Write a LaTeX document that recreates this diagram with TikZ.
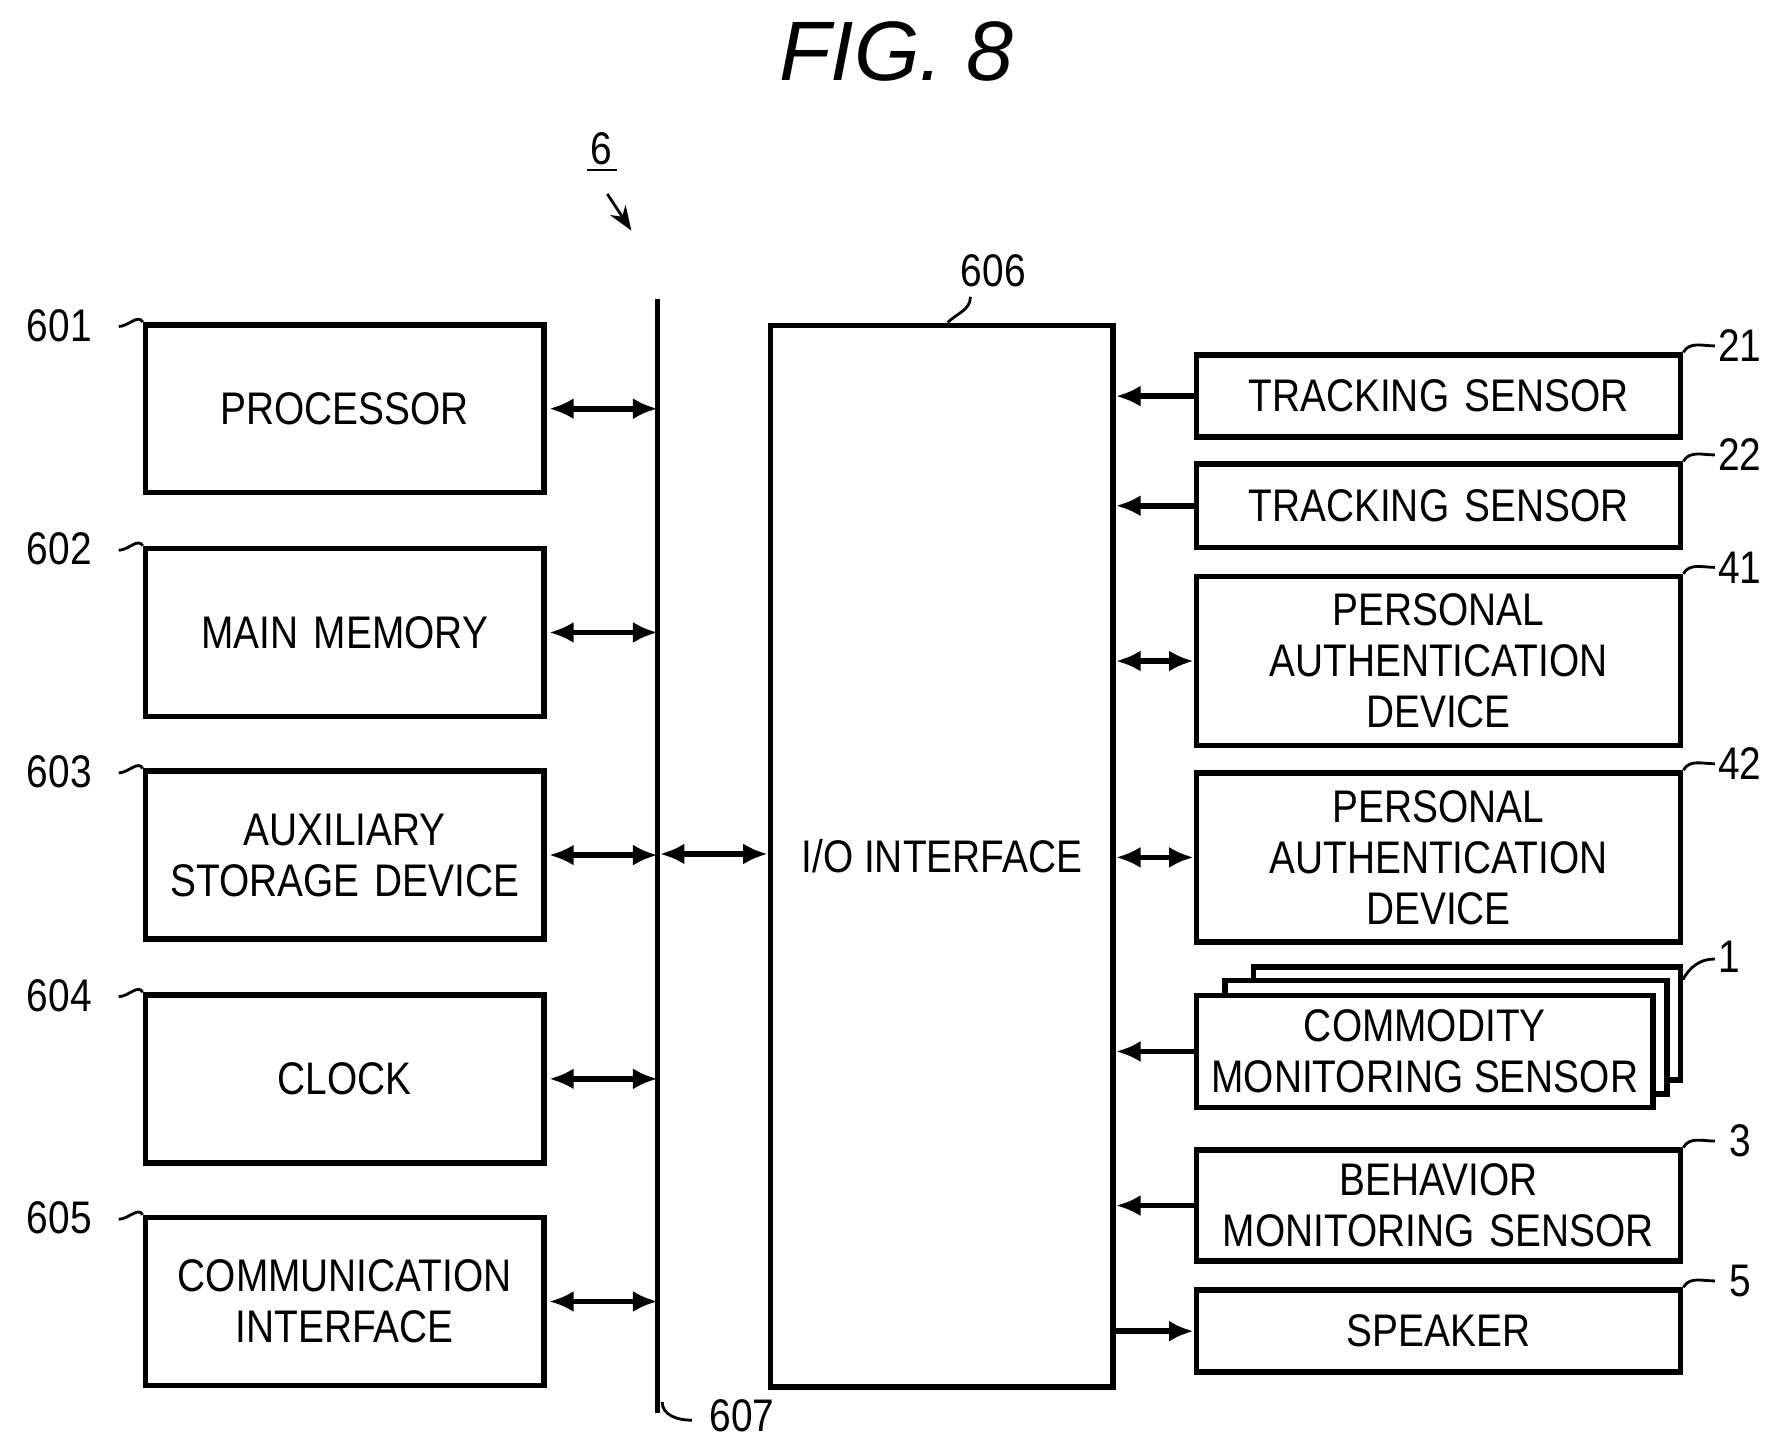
\documentclass[tikz,border=0pt]{standalone}
\usepackage{fontspec}
\setmainfont[FakeStretch=0.85]{Liberation Sans}
\newfontfamily\titlefont{Liberation Sans}
\usetikzlibrary{arrows.meta,decorations.pathmorphing}
\tikzset{
    blk/.style={draw, line width=1.6pt, inner sep=0pt, align=center,
        font=\fontsize{13}{14.5}\selectfont},
    ref/.style={font=\fontsize{13}{14}\selectfont},
    hook/.style={line width=0.8pt},
    link/.style={line width=1.6pt, -{Latex[length=7pt,width=6pt]}},
    dlink/.style={line width=1.6pt, {Latex[length=7pt,width=6pt]}-{Latex[length=7pt,width=6pt]}},
}
\begin{document}
\begin{tikzpicture}[x=0.01142cm, y=-0.01142cm]
\useasboundingbox (0,0) rectangle (1560,1264);
\node (title) at (785,45) {\titlefont\fontsize{24}{26}\selectfont\itshape FIG. 8};
% unit label
\node[ref] (six) at (527,130) {6};
\draw[hook] (514,149) -- (540,149);
\draw[hook, -{Stealth[length=7pt]}, decorate, decoration={snake, amplitude=2pt, segment length=12pt, post length=6pt}] (532,170) -- (553,202);
% bus
\coordinate (bt) at (576,262);
\coordinate (bb) at (576,1238);
\draw[line width=1.6pt] (bt) -- (bb);
\node[ref] (l607) at (650,1240) {607};
\draw[hook] (bb) ++(4,-10) to[out=-90,in=180] (606,1244);
% left blocks
\foreach \n/\y/\t in {601/358/PROCESSOR, 602/554/MAIN MEMORY, 603/749/AUXILIARY\\STORAGE DEVICE, 604/945/CLOCK, 605/1140/COMMUNICATION\\INTERFACE}{
    \node[blk, text width=340*0.01142cm, minimum width=349*0.01142cm, minimum height=147*0.01142cm] (b\n) at (302,\y) {\t};
    \coordinate (c\n) at (576,\y);
    \draw[dlink] (b\n.east) ++(2,0) -- (c\n);
    \node[ref] (l\n) at (52,\y-73) {\n};
    \draw[hook] (104,\y-72) to[out=0,in=120] (b\n.north west);
}
% I/O interface
\node[blk, minimum width=300*0.01142cm, minimum height=930*0.01142cm] (io) at (825,750) {I/O INTERFACE};
\coordinate (cio) at (578,748);
\draw[dlink] (cio) -- (io.west |- cio);
\node[ref] (l606) at (870,237) {606};
\draw[hook] (850,260) to[out=-90,in=45] (io.north west -| 830,285);
% right blocks
\foreach \n/\y/\h/\t in {21/347/72/TRACKING SENSOR, 22/443/73/TRACKING SENSOR, 41/579/148/PERSONAL\\AUTHENTICATION\\DEVICE, 42/751/148/PERSONAL\\AUTHENTICATION\\DEVICE, 3/1056/97/BEHAVIOR\\MONITORING SENSOR, 5/1166/72/SPEAKER}{
    \node[blk, minimum width=424*0.01142cm, minimum height=\h*0.01142cm, text width=420*0.01142cm] (r\n) at (1260,\y) {\t};
    \node[ref] (l\n) at (1524,\y-\h/2-8) {\n};
    \draw[hook] (1502,\y-\h/2-8) to[out=180,in=60] (r\n.north east);
}
% stacked commodity sensors
\draw[line width=1.6pt, fill=white] (1098,847) rectangle (1472,946);
\draw[line width=1.6pt, fill=white] (1073,859) rectangle (1460,958);
\node[blk, fill=white, minimum width=400*0.01142cm, minimum height=98*0.01142cm] (r1) at (1248,921) {COMMODITY\\MONITORING SENSOR};
\node[ref] (l1) at (1515,838) {1};
\draw[hook] (1502,840) to[out=180,in=60] (1474,858);
% connectors to I/O
\draw[link] (r21.west) -- (io.east |- r21.west);
\draw[link] (r22.west) -- (io.east |- r22.west);
\draw[dlink] (r41.west) -- (io.east |- r41.west);
\draw[dlink] (r42.west) -- (io.east |- r42.west);
\draw[link] (r1.west) -- (io.east |- r1.west);
\draw[link] (r3.west) -- (io.east |- r3.west);
\draw[link] (io.east |- r5.west) -- (r5.west);
\end{tikzpicture}
\end{document}
